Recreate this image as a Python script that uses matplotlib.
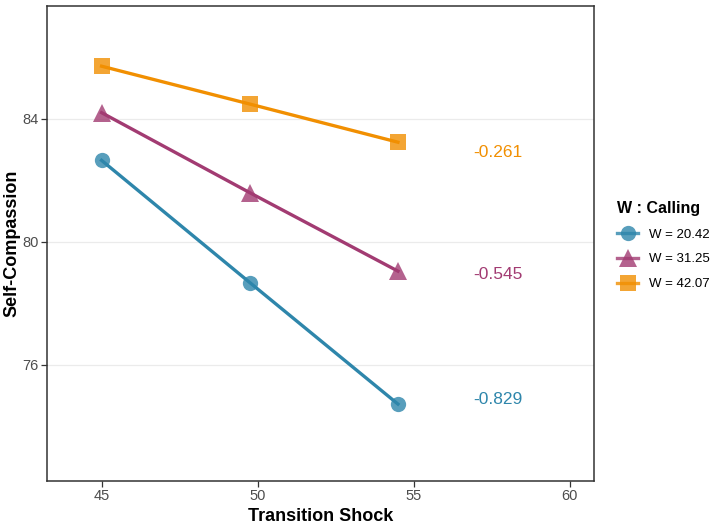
import matplotlib.pyplot as plt
from matplotlib.lines import Line2D

plt.rcParams['font.family'] = ['Liberation Sans', 'DejaVu Sans']

# data
shock = [45.0, 49.75, 54.5]
w_labels = ['W = 20.42', 'W = 31.25', 'W = 42.07']
compassion = {
    'W = 20.42': [82.65, 78.68, 74.73],
    'W = 31.25': [84.2, 81.6, 79.05],
    'W = 42.07': [85.71, 84.48, 83.24],
}
slopes = ['-0.829', '-0.545', '-0.261']
slope_y = [74.88, 78.93, 82.92]
slope_x = 57.7

colors = ['#2E86AB', '#A23B72', '#F18F01']
markers = ['o', '^', 's']
msizes = [11, 13, 11]

fig = plt.figure(figsize=(7.14, 5.25), dpi=100)
ax = fig.add_axes([0.0658, 0.0838, 0.7668, 0.905])

for lab, c, m, ms in zip(w_labels, colors, markers, msizes):
    ax.plot(shock, compassion[lab], color=c, lw=2.4, zorder=3)
    ax.plot(shock, compassion[lab], ls='none', marker=m, ms=ms, color=c,
            alpha=0.8, markeredgewidth=0, zorder=4)

for s, y, c in zip(slopes, slope_y, colors):
    ax.text(slope_x, y, s, color=c, fontsize=12.5, ha='center', va='center')

ax.set_xlim(43.25, 60.8)
ax.set_ylim(72.23, 87.67)
ax.set_xticks([45, 50, 55, 60])
ax.set_yticks([76, 80, 84])
ax.grid(axis='y', color='#ebebeb', lw=0.9)
ax.set_axisbelow(True)
for sp in ax.spines.values():
    sp.set_color('#333333')
    sp.set_linewidth(1.1)
ax.tick_params(axis='both', colors='#333333', labelcolor='#4d4d4d',
               labelsize=10.5, length=4, width=0.9, pad=2)

ax.set_xlabel('Transition Shock', fontsize=13, fontweight='bold')
ax.set_ylabel('Self-Compassion', fontsize=13, fontweight='bold')
ax.yaxis.set_label_coords(-0.049, 0.5)
ax.xaxis.set_label_coords(0.5, -0.057)

handles = [Line2D([0], [0], color=c, lw=2.4, marker=m, ms=ms, alpha=0.8,
                  markeredgewidth=0)
           for c, m, ms in zip(colors, markers, msizes)]
leg = fig.legend(handles, w_labels, title='W : Calling', loc='upper left',
                 bbox_to_anchor=(0.848, 0.64), frameon=False, fontsize=9.5,
                 title_fontproperties={'weight': 'bold', 'size': 11.5},
                 handlelength=1.6, labelspacing=0.95, handletextpad=0.8)
leg._legend_box.align = 'left'

fig.savefig('out.png', dpi=100)
